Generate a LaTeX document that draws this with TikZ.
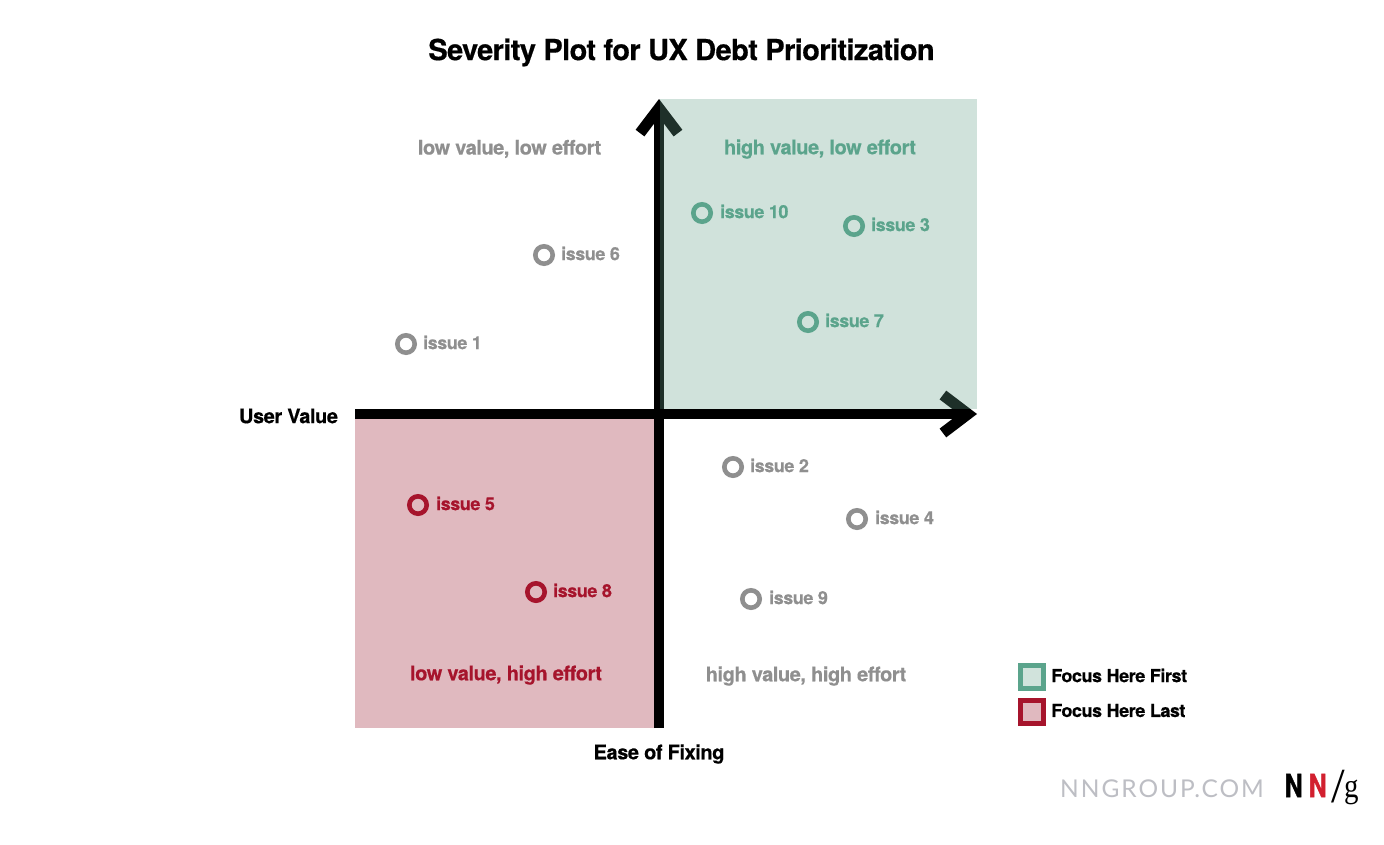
\documentclass[tikz,border=0pt]{standalone}
\usepackage{fontspec}
\usetikzlibrary{arrows.meta}
\setmainfont{TeX Gyre Heros}
\newfontfamily\logosans{Lato}
\newfontfamily\logoserif{Liberation Serif}
\newfontfamily\logoN{TeX Gyre Heros Bold}[FakeStretch=0.78,FakeBold=1.2]
\newfontfamily\logog{Liberation Serif}[FakeStretch=0.85]
\definecolor{nngreen}{HTML}{5BA48C}
\definecolor{nnred}{HTML}{A6142C}
\definecolor{nngrey}{HTML}{8F8F8F}
\definecolor{wash}{HTML}{64A089}
\definecolor{redwash}{HTML}{E0B9BF}
\definecolor{greenfill}{HTML}{D1E3DC}
\definecolor{logogrey}{HTML}{BDBEC4}
\definecolor{logored}{HTML}{D2202F}
\tikzset{
  x=1pt,y=-1pt,
  txt/.style={inner sep=0pt,font=\fontsize{20}{20}\selectfont\bfseries\addfontfeature{LetterSpace=-2.2,FakeBold=0.4}},
  zone/.style={txt,anchor=center},
  axislabel/.style={txt,text=black,anchor=center},
  issuelabel/.style={inner sep=0pt,anchor=west,font=\fontsize{18}{18}\selectfont\bfseries\addfontfeature{LetterSpace=-2.6,FakeBold=0.4}},
  marker/.style={circle,draw=#1,line width=4.6pt,minimum size=17.4pt,inner sep=0pt},
  axisline/.style={line width=10pt,black,-{Straight Barb[length=25pt,width=38pt,line width=11pt]}},
  legendbox/.style={rectangle,draw=#1,line width=4.6pt,minimum size=23.4pt,inner sep=0pt},
}
\begin{document}
\begin{tikzpicture}
\useasboundingbox (0,0) rectangle (1384,844);
\fill[white] (0,0) rectangle (1384,844);
\fill[redwash] (355,418) rectangle (654,728);
\coordinate (vbottom) at (659,728);
\coordinate (vtop) at (659,99);
\coordinate (hleft) at (355,414);
\coordinate (hright) at (977,414);
\draw[axisline] (vbottom) -- (vtop);
\draw[axisline] (hleft) -- (hright);
\fill[wash,opacity=.3] (660,99) rectangle (977,409);

\node[inner sep=0pt,font=\fontsize{29}{30}\selectfont\bfseries\addfontfeature{LetterSpace=-2.1,FakeBold=0.5}] (title) at (681.5,52.5) {Severity Plot for UX Debt Prioritization};

\node[zone,text=nngrey] (q1) at (509.5,149) {low value, low effort};
\node[zone,text=nngreen] (q2) at (820,149) {high value, low effort};
\node[zone,text=nnred] (q3) at (506,675) {low value, high effort};
\node[zone,text=nngrey] (q4) at (806,676) {high value, high effort};
\node[axislabel] (ylab) at (288.5,416) {User Value};
\node[axislabel] (xlab) at (659,754) {Ease of Fixing};

\node[marker=nngreen] (m10) at (702,213) {};
\node[issuelabel,text=nngreen] (l10) at (720,211.5) {issue 10};
\node[marker=nngreen] (m3) at (854,226) {};
\node[issuelabel,text=nngreen] (l3) at (871,224.5) {issue 3};
\node[marker=nngreen] (m7) at (808,322) {};
\node[issuelabel,text=nngreen] (l7) at (825,320.5) {issue 7};
\node[marker=nngrey] (m6) at (544,255) {};
\node[issuelabel,text=nngrey] (l6) at (561,253.5) {issue 6};
\node[marker=nngrey] (m1) at (406,344) {};
\node[issuelabel,text=nngrey] (l1) at (423,342.5) {issue 1};
\node[marker=nngrey] (m2) at (733,467) {};
\node[issuelabel,text=nngrey] (l2) at (750,465.5) {issue 2};
\node[marker=nngrey] (m4) at (857,519) {};
\node[issuelabel,text=nngrey] (l4) at (875,517.5) {issue 4};
\node[marker=nngrey] (m9) at (751,599) {};
\node[issuelabel,text=nngrey] (l9) at (769,597.5) {issue 9};
\node[marker=nnred] (m5) at (418,505) {};
\node[issuelabel,text=nnred] (l5) at (436,503.5) {issue 5};
\node[marker=nnred] (m8) at (536,592) {};
\node[issuelabel,text=nnred] (l8) at (553,590.5) {issue 8};

\node[legendbox=nngreen,fill=greenfill] (lg1) at (1032,677) {};
\node[issuelabel,text=black] (lt1) at (1051,675.5) {Focus Here First};
\node[legendbox=nnred,fill=redwash] (lg2) at (1032,712) {};
\node[issuelabel,text=black] (lt2) at (1051,710.5) {Focus Here Last};

\node[inner sep=0pt,anchor=west,text=logogrey,font=\logosans\fontsize{24.5}{25}\selectfont\addfontfeature{LetterSpace=8}] (site) at (1060,788.5) {NNGROUP.COM};
\node[inner sep=0pt,anchor=west,font=\logoN\fontsize{32}{32}\selectfont] (n1) at (1284.5,785.5) {N};
\node[inner sep=0pt,anchor=west,text=logored,font=\logoN\fontsize{32}{32}\selectfont] (n2) at (1308.5,785.5) {N};
\node[inner sep=0pt,anchor=west,font=\logoserif\fontsize{49}{49}\selectfont] (slash) at (1331,787) {/};
\node[inner sep=0pt,anchor=west,font=\logog\fontsize{34}{34}\selectfont] (g) at (1344,792) {g};
\end{tikzpicture}
\end{document}
